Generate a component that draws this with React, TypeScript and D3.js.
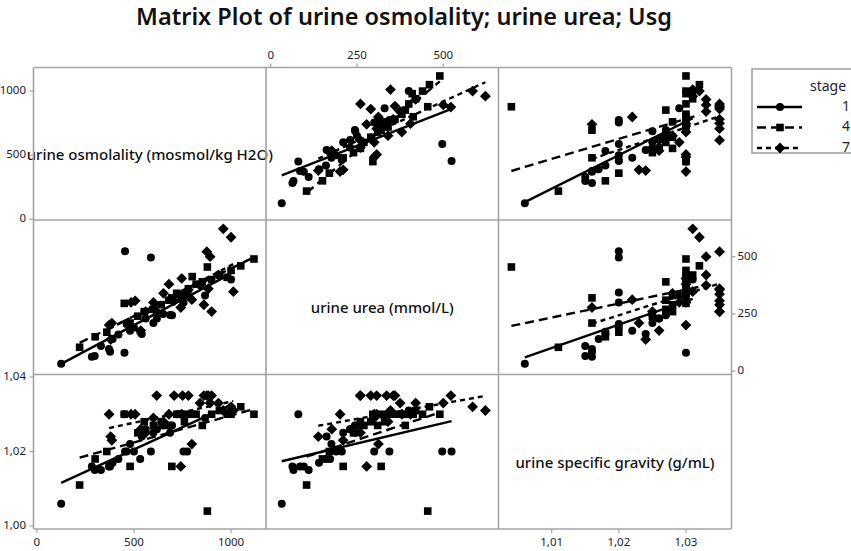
import { useMemo } from "react";
import * as d3 from "d3";

const WIDTH = 851;
const HEIGHT = 551;
const COLS = [33.5, 266, 498.5, 731.5];
const ROWS = [67.5, 220, 374.5, 529];
const FONT = "'Noto Sans', 'Open Sans', sans-serif";
const GRID = "#a3a3a3";
const INK = "#1c1c2c";

const TITLE = "Matrix Plot of urine osmolality; urine urea; Usg";
const VAR_LABELS = [
  "urine osmolality (mosmol/kg H2O)",
  "urine urea (mmol/L)",
  "urine specific gravity (g/mL)",
];
const STAGES = ["1", "4", "7"];

// stage 1 (circles)
const osm1 = [125, 283, 298, 330, 371, 377, 390, 420, 451, 454, 462, 480, 500, 532, 540, 560, 587, 600, 618, 650, 686, 696, 722, 755, 774, 866, 1000];
const urea1 = [32, 63, 66, 110, 96, 85, 140, 160, 80, 524, 206, 176, 190, 172, 162, 230, 497, 210, 230, 250, 245, 244, 336, 300, 344, 330, 400];
const usg1 = [1.006, 1.016, 1.015, 1.015, 1.016, 1.016, 1.017, 1.018, 1.03, 1.02, 1.02, 1.022, 1.02, 1.018, 1.024, 1.026, 1.02, 1.025, 1.026, 1.027, 1.025, 1.027, 1.03, 1.02, 1.02, 1.029, 1.031];

// stage 4 (squares)
const osm4 = [220, 300, 360, 450, 480, 520, 553, 600, 640, 680, 695, 720, 745, 760, 780, 800, 820, 852, 878, 900, 940, 980, 1000, 1050, 1118];
const urea4 = [104, 150, 170, 296, 210, 240, 260, 270, 290, 310, 320, 340, 317, 330, 360, 413, 380, 390, 455, 400, 420, 410, 440, 460, 490];
const usg4 = [1.011, 1.018, 1.02, 1.03, 1.016, 1.025, 1.028, 1.027, 1.028, 1.027, 1.016, 1.03, 1.03, 1.028, 1.03, 1.03, 1.03, 1.027, 1.004, 1.03, 1.031, 1.03, 1.03, 1.032, 1.03];

// stage 7 (diamonds)
const osm7 = [372, 380, 386, 485, 506, 535, 560, 617, 652, 707, 741, 746, 750, 780, 798, 840, 860, 875, 883, 892, 900, 935, 960, 1000, 1012, 600, 680];
const urea7 = [201, 138, 210, 300, 307, 177, 260, 259, 340, 307, 278, 405, 336, 355, 312, 375, 290, 522, 360, 500, 260, 420, 622, 585, 347, 300, 380];
const usg7 = [1.03, 1.024, 1.023, 1.03, 1.03, 1.026, 1.025, 1.035, 1.028, 1.035, 1.016, 1.03, 1.035, 1.035, 1.022, 1.033, 1.035, 1.035, 1.035, 1.033, 1.035, 1.033, 1.031, 1.032, 1.031, 1.029, 1.03];

const OSM_TICKS = [0, 500, 1000];
const UREA_TICKS = [0, 250, 500];
const USG_X_TICKS = [1.01, 1.02, 1.03];
const USG_Y_TICKS = [1.0, 1.02, 1.04];

const X_DOMAINS: [number, number][] = [[-17.5, 1180], [-13.6, 660], [1.00208, 1.03678]];
const Y_DOMAINS: [number, number][] = [[-5.5, 1184], [-15, 660.5], [0.99919, 1.04067]];

const SERIES = [
  { stage: "1", vars: [osm1, urea1, usg1], dash: "none" },
  { stage: "4", vars: [osm4, urea4, usg4], dash: "9,5" },
  { stage: "7", vars: [osm7, urea7, usg7], dash: "5,4" },
];

const fmtUsg = (v: number) => d3.format(".2f")(v).replace(".", ",");

function Marker({ kind, x, y }: { kind: number; x: number; y: number }) {
  if (kind === 0) return <circle cx={x} cy={y} r={4} fill="#000" />;
  if (kind === 1) return <rect x={x - 3.8} y={y - 3.8} width={7.6} height={7.6} fill="#000" />;
  const h = 5.4;
  return <path d={`M${x},${y - h}L${x + h},${y}L${x},${y + h}L${x - h},${y}Z`} fill="#000" />;
}

// least squares line over the stage's x range
function fit(xs: number[], ys: number[]) {
  const mx = d3.mean(xs)!;
  const my = d3.mean(ys)!;
  let sxy = 0;
  let sxx = 0;
  xs.forEach((x, i) => {
    sxy += (x - mx) * (ys[i] - my);
    sxx += (x - mx) * (x - mx);
  });
  const b = sxy / sxx;
  const a = my - b * mx;
  const [x0, x1] = d3.extent(xs) as [number, number];
  return [
    [x0, a + b * x0],
    [x1, a + b * x1],
  ];
}

export default function App() {
  const xScales = useMemo(
    () => X_DOMAINS.map((d, i) => d3.scaleLinear().domain(d).range([COLS[i], COLS[i + 1]])),
    []
  );
  const yScales = useMemo(
    () => Y_DOMAINS.map((d, i) => d3.scaleLinear().domain(d).range([ROWS[i + 1], ROWS[i]])),
    []
  );

  const cells: JSX.Element[] = [];
  for (let r = 0; r < 3; r++) {
    for (let c = 0; c < 3; c++) {
      if (r === c) {
        cells.push(
          <text
            key={`lab${r}`}
            x={(COLS[c] + COLS[c + 1]) / 2}
            y={(ROWS[r] + ROWS[r + 1]) / 2 + 12}
            textAnchor="middle"
            dominantBaseline="middle"
            fontSize={15}
            fontWeight={500}
            fill="#111"
          >
            {VAR_LABELS[r]}
          </text>
        );
        continue;
      }
      const xs = xScales[c];
      const ys = yScales[r];
      const line = d3
        .line<number[]>()
        .x((d) => xs(d[0]))
        .y((d) => ys(d[1]));
      SERIES.forEach((s, k) => {
        const xv = s.vars[c];
        const yv = s.vars[r];
        xv.forEach((v, i) => {
          cells.push(<Marker key={`m${r}${c}${k}${i}`} kind={k} x={xs(v)} y={ys(yv[i])} />);
        });
        cells.push(
          <path
            key={`f${r}${c}${k}`}
            d={line(fit(xv, yv)) ?? ""}
            fill="none"
            stroke="#000"
            strokeWidth={2.4}
            strokeDasharray={s.dash}
          />
        );
      });
    }
  }

  const gridLines = [
    ...COLS.map((x, i) => <line key={`gc${i}`} x1={x} x2={x} y1={ROWS[0]} y2={ROWS[3]} />),
    ...ROWS.map((y, i) => <line key={`gr${i}`} x1={COLS[0]} x2={COLS[3]} y1={y} y2={y} />),
  ];

  return (
    <svg width={WIDTH} height={HEIGHT} style={{ display: "block", background: "#fff" }} fontFamily={FONT}>
      <style>{`body{margin:0}`}</style>
      <text x={404} y={25} textAnchor="middle" fontSize={23.5} fontWeight={600} fill="#111">
        {TITLE}
      </text>

      {cells}

      <g stroke={GRID} strokeWidth={1.6}>{gridLines}</g>

      <g fontSize={11.5} fill={INK}>
        {/* top axis: urea over column 2 */}
        {UREA_TICKS.map((t) => (
          <g key={`ta${t}`}>
            <line x1={xScales[1](t)} x2={xScales[1](t)} y1={ROWS[0]} y2={ROWS[0] - 4} stroke={GRID} strokeWidth={1.2} />
            <text x={xScales[1](t)} y={56} textAnchor="middle" dominantBaseline="middle">{t}</text>
          </g>
        ))}
        {OSM_TICKS.map((t) => (
          <g key={`la${t}`}>
            <line x1={COLS[0] - 4} x2={COLS[0]} y1={yScales[0](t)} y2={yScales[0](t)} stroke={GRID} strokeWidth={1.2} />
            <text x={26} y={yScales[0](t)} textAnchor="end" dominantBaseline="middle">{t}</text>
          </g>
        ))}
        {UREA_TICKS.map((t) => (
          <g key={`ra${t}`}>
            <line x1={COLS[3]} x2={COLS[3] + 4} y1={yScales[1](t)} y2={yScales[1](t)} stroke={GRID} strokeWidth={1.2} />
            <text x={COLS[3] + 6} y={yScales[1](t)} textAnchor="start" dominantBaseline="middle">{t}</text>
          </g>
        ))}
        {USG_Y_TICKS.map((t) => (
          <g key={`ua${t}`}>
            <line x1={COLS[0] - 4} x2={COLS[0]} y1={yScales[2](t)} y2={yScales[2](t)} stroke={GRID} strokeWidth={1.2} />
            <text x={26} y={yScales[2](t)} textAnchor="end" dominantBaseline="middle">{fmtUsg(t)}</text>
          </g>
        ))}
        {OSM_TICKS.map((t) => (
          <g key={`ba${t}`}>
            <line x1={xScales[0](t)} x2={xScales[0](t)} y1={ROWS[3]} y2={ROWS[3] + 4} stroke={GRID} strokeWidth={1.2} />
            <text x={xScales[0](t)} y={543} textAnchor="middle" dominantBaseline="middle">{t}</text>
          </g>
        ))}
        {USG_X_TICKS.map((t) => (
          <g key={`bu${t}`}>
            <line x1={xScales[2](t)} x2={xScales[2](t)} y1={ROWS[3]} y2={ROWS[3] + 4} stroke={GRID} strokeWidth={1.2} />
            <text x={xScales[2](t)} y={543} textAnchor="middle" dominantBaseline="middle">{fmtUsg(t)}</text>
          </g>
        ))}
      </g>

      {/* legend */}
      <g>
        <rect x={752} y={69} width={120} height={84} fill="#fff" stroke={GRID} strokeWidth={1.6} />
        <text x={810} y={87} fontSize={14} dominantBaseline="middle" fill={INK}>stage</text>
        {SERIES.map((s, k) => {
          const y = 107 + k * 20.5;
          return (
            <g key={`lg${k}`}>
              <line x1={757} x2={802} y1={y} y2={y} stroke="#000" strokeWidth={2.4} strokeDasharray={s.dash} />
              <Marker kind={k} x={780} y={y} />
              <text x={842} y={y} fontSize={14} dominantBaseline="middle" fill={INK}>{STAGES[k]}</text>
            </g>
          );
        })}
      </g>
    </svg>
  );
}
